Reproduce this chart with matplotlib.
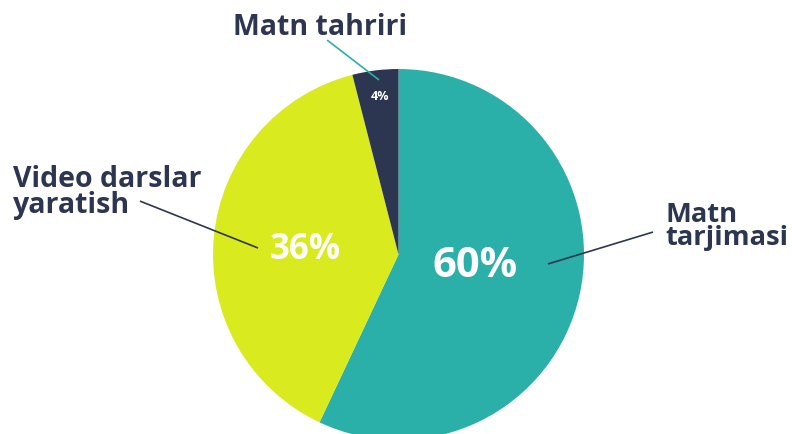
import matplotlib.pyplot as plt
import numpy as np

labels = ["Matn\ntarjimasi", "Video darslar\nyaratish", "Matn tahriri"]
# slice sizes as drawn; the printed percentages differ slightly from the geometry
values = [57, 39, 4]
pct_text = ["60%", "36%", "4%"]
colors = ["#2AB0A9", "#D9EA1F", "#2D3651"]
navy = "#2D3651"

# layout in pie units (radius = 1, centre = 0,0)
pct_pos = [(0.412, -0.067), (-0.504, 0.024), (-0.100, 0.854)]
pct_size = [30, 25, 9]
label_pos = [(1.437, 0.051), (-2.078, 0.224), (-0.423, 1.183)]
label_ha = ["left", "left", "center"]
label_size = [19.7, 20.5, 20.5]
line_from = [(0.806, -0.051), (-0.757, 0.035), (-0.105, 0.941)]
line_to = [(1.372, 0.121), (-1.394, 0.288), (-0.385, 1.156)]
line_col = [navy, navy, "#2AB0A9"]

plt.rcParams["font.family"] = ["Open Sans", "DejaVu Sans"]

fig = plt.figure(figsize=(7.92, 4.34), dpi=100)
ax = fig.add_axes([0, 0, 1, 1])
ax.pie(values, colors=colors, startangle=90, counterclock=False, radius=1,
       wedgeprops=dict(linewidth=0))

for i, v in enumerate(values):
    ax.text(*pct_pos[i], pct_text[i], ha="center", va="center",
            color="white", fontsize=pct_size[i], fontweight="bold")
    ax.plot([line_from[i][0], line_to[i][0]], [line_from[i][1], line_to[i][1]],
            color=line_col[i], lw=1.2, solid_capstyle="butt")
    ax.text(*label_pos[i], labels[i], ha=label_ha[i], va="baseline", color=navy,
            fontsize=label_size[i], fontweight="bold", linespacing=0.87)

cx, cy, r = 398.5, 254.5, 185.5
ax.set_xlim(-cx / r, (792 - cx) / r)
ax.set_ylim((cy - 434) / r, cy / r)
ax.set_aspect("auto")
ax.axis("off")

fig.savefig("out.png", dpi=100)
